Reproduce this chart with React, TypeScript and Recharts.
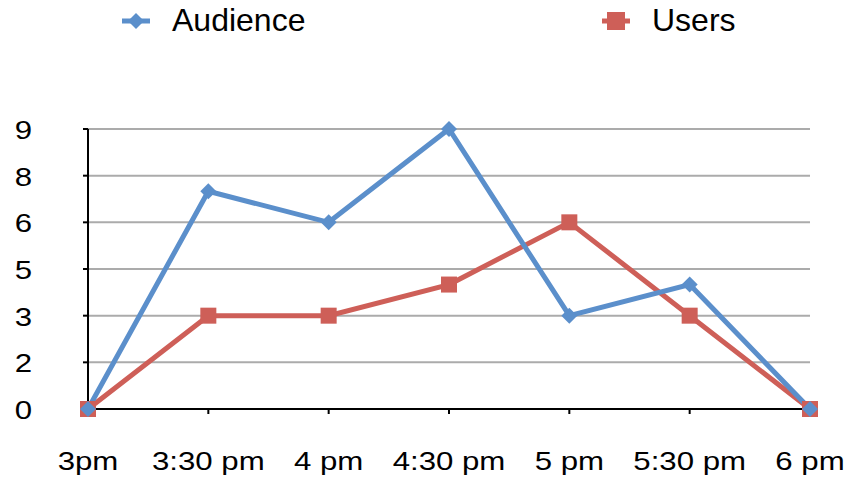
import React from 'react';
import {
    LineChart,
    Line,
    XAxis,
    YAxis,
    CartesianGrid,
    Legend
} from 'recharts';

// chart values
const times = ['3pm', '3:30 pm', '4 pm', '4:30 pm', '5 pm', '5:30 pm', '6 pm'];
const audience = [0, 7, 6, 9, 3, 4, 0];
const users = [0, 3, 3, 4, 6, 3, 0];
const yTicks = [0, 1.5, 3, 4.5, 6, 7.5, 9];
const yTickLabels = ['0', '2', '3', '5', '6', '8', '9'];

const BLUE = '#5B8FCB';
const RED = '#CE5F58';
const FONT = '"Liberation Sans", Arial, Helvetica, sans-serif';

const data = times.map((t, i) => ({ time: t, audience: audience[i], users: users[i] }));

function DiamondDot(props: any) {
    const { cx, cy } = props;
    if (cx == null || cy == null) return null;
    const r = 8;
    return (
        <polygon
            points={`${cx},${cy - r} ${cx + r},${cy} ${cx},${cy + r} ${cx - r},${cy}`}
            fill={BLUE}
        />
    );
}

function SquareDot(props: any) {
    const { cx, cy } = props;
    if (cx == null || cy == null) return null;
    const s = 16;
    return <rect x={cx - s / 2} y={cy - s / 2} width={s} height={s} fill={RED} />;
}

function XTick(props: any) {
    const { x, y, payload } = props;
    return (
        <g transform={`translate(${x},${y})`}>
            <text
                transform="scale(1.2,1)"
                textAnchor="middle"
                dy={18}
                fontSize={26}
                fontFamily={FONT}
                fill="#000"
            >
                {payload.value}
            </text>
        </g>
    );
}

function YTick(props: any) {
    const { x, y, payload, index } = props;
    return (
        <g transform={`translate(${x},${y})`}>
            <text
                transform="scale(1.2,1)"
                textAnchor="end"
                dy={10}
                fontSize={26}
                fontFamily={FONT}
                fill="#000"
            >
                {yTickLabels[index] ?? String(payload.value)}
            </text>
        </g>
    );
}

function LegendContent() {
    const items = [
        { label: 'Audience', color: BLUE, shape: 'diamond', x: 122 },
        { label: 'Users', color: RED, shape: 'square', x: 602 },
    ];
    return (
        <div style={{ position: 'relative', width: 849, height: 44 }}>
            {items.map((it) => (
                <div key={it.label} style={{ position: 'absolute', left: it.x, top: 0, height: 44 }}>
                    <svg width={28} height={44} style={{ position: 'absolute', left: 0, top: 0 }}>
                        <line x1={0} y1={21} x2={28} y2={21} stroke={it.color} strokeWidth={5} />
                        {it.shape === 'diamond' ? (
                            <polygon points="14,13 22,21 14,29 6,21" fill={it.color} />
                        ) : (
                            <rect x={5} y={12} width={18} height={18} fill={it.color} />
                        )}
                    </svg>
                    <span
                        style={{
                            position: 'absolute',
                            left: 50,
                            top: 2,
                            fontFamily: FONT,
                            fontSize: 32,
                            lineHeight: '36px',
                            color: '#000',
                            whiteSpace: 'nowrap',
                        }}
                    >
                        {it.label}
                    </span>
                </div>
            ))}
        </div>
    );
}

export default function App() {
    return (
        <div style={{ position: 'absolute', left: 0, top: 0, width: 849, height: 479, background: '#fff' }}>
            <LineChart
                width={849}
                height={479}
                data={data}
                margin={{ top: 85, right: 39, left: 0, bottom: 0 }}
            >
                <CartesianGrid horizontal vertical={false} stroke="#ABABAB" strokeWidth={2} />
                <XAxis
                    dataKey="time"
                    height={70}
                    axisLine={{ stroke: '#000', strokeWidth: 2 }}
                    tickLine={{ stroke: '#000', strokeWidth: 2 }}
                    tickSize={5}
                    tickMargin={38}
                    tick={<XTick />}
                    interval={0}
                />
                <YAxis
                    width={88}
                    domain={[0, 9]}
                    ticks={yTicks}
                    axisLine={{ stroke: '#000', strokeWidth: 2 }}
                    tickLine={{ stroke: '#000', strokeWidth: 2 }}
                    tickSize={5}
                    tickMargin={51}
                    tick={<YTick />}
                    interval={0}
                />
                <Legend
                    verticalAlign="top"
                    content={<LegendContent />}
                    wrapperStyle={{ position: 'absolute', top: 0, left: 0, width: 849, height: 44 }}
                />
                <Line
                    type="linear"
                    dataKey="users"
                    name="Users"
                    stroke={RED}
                    strokeWidth={5}
                    dot={<SquareDot />}
                    activeDot={false}
                    isAnimationActive={false}
                />
                <Line
                    type="linear"
                    dataKey="audience"
                    name="Audience"
                    stroke={BLUE}
                    strokeWidth={5}
                    dot={<DiamondDot />}
                    activeDot={false}
                    isAnimationActive={false}
                />
            </LineChart>
        </div>
    );
}
